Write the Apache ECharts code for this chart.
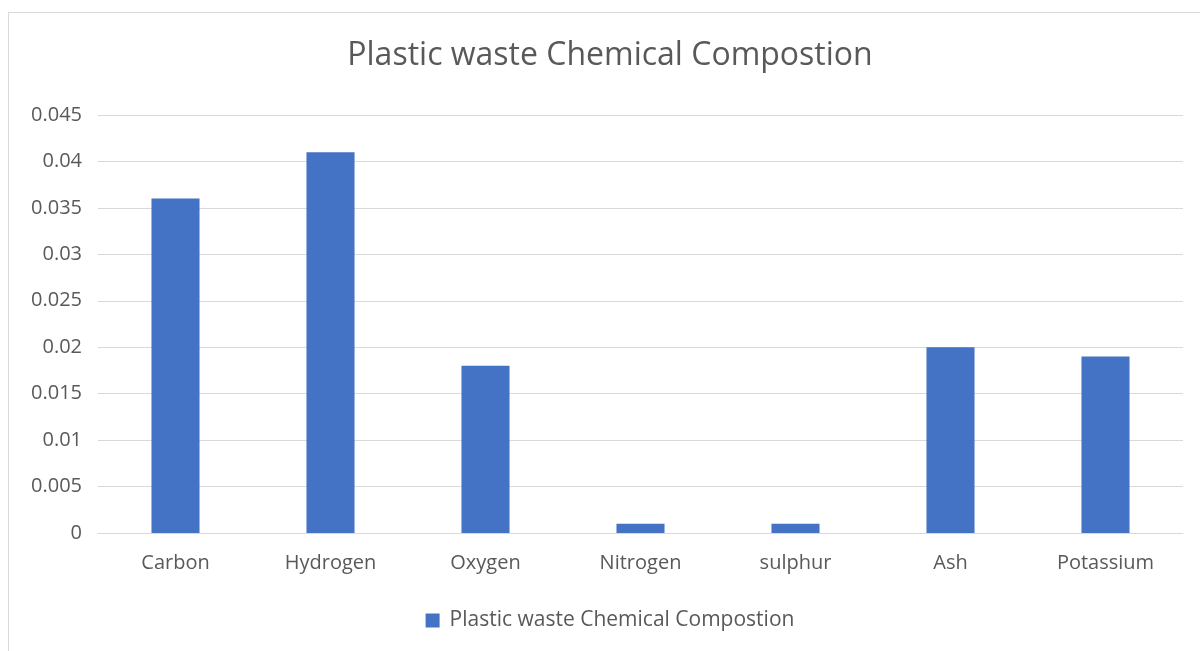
<!DOCTYPE html>
<html><head><meta charset="utf-8">
<script src="https://cdn.jsdelivr.net/npm/echarts@6/dist/echarts.min.js"></script>
<style>
html,body{margin:0;padding:0;background:#fff;overflow:hidden;width:1200px;height:651px;}
#frame{position:absolute;left:8px;top:12px;width:1220px;height:660px;border:1px solid #d9d9d9;box-sizing:border-box;}
#chart{position:absolute;left:0;top:0;width:1220px;height:651px;}
</style></head>
<body>
<div id="frame"></div>
<div id="chart"></div>
<script>
const categories = ["Carbon","Hydrogen","Oxygen","Nitrogen","sulphur","Ash","Potassium"];
const values = [0.036,0.041,0.018,0.001,0.001,0.020,0.019];
const seriesName = "Plastic waste Chemical Compostion";
const titleText = "Plastic waste Chemical Compostion";

const font = "'Open Sans', sans-serif";
const chart = echarts.init(document.getElementById('chart'), null, {renderer:'canvas'});
chart.setOption({
  animation:false,
  textStyle:{fontFamily:font},
  title:{text:titleText,left:'center',top:35,textStyle:{fontFamily:font,fontSize:32,fontWeight:'normal',color:'#595959'}},
  legend:{bottom:15,left:'center',itemWidth:14,itemHeight:14,icon:'rect',itemGap:10,
    textStyle:{fontFamily:font,fontSize:21,color:'#595959',padding:[0,0,0,5]}},
  grid:{left:98,right:37,top:115,bottom:118,containLabel:false},
  xAxis:{type:'category',data:categories,axisTick:{show:false},
    axisLine:{lineStyle:{color:'#d9d9d9'}},
    axisLabel:{fontFamily:font,fontSize:20,color:'#595959',margin:20}},
  yAxis:{type:'value',min:0,max:0.045,interval:0.005,
    axisLine:{show:false},axisTick:{show:false},
    splitLine:{lineStyle:{color:'#d9d9d9',width:1}},
    axisLabel:{fontFamily:font,fontSize:20,color:'#595959',margin:16,
      formatter:function(v){return String(parseFloat(v.toFixed(3)));}}},
  series:[{name:seriesName,type:'bar',data:values,barWidth:'31%',itemStyle:{color:'#4472C4'}}]
});
</script>
</body></html>
